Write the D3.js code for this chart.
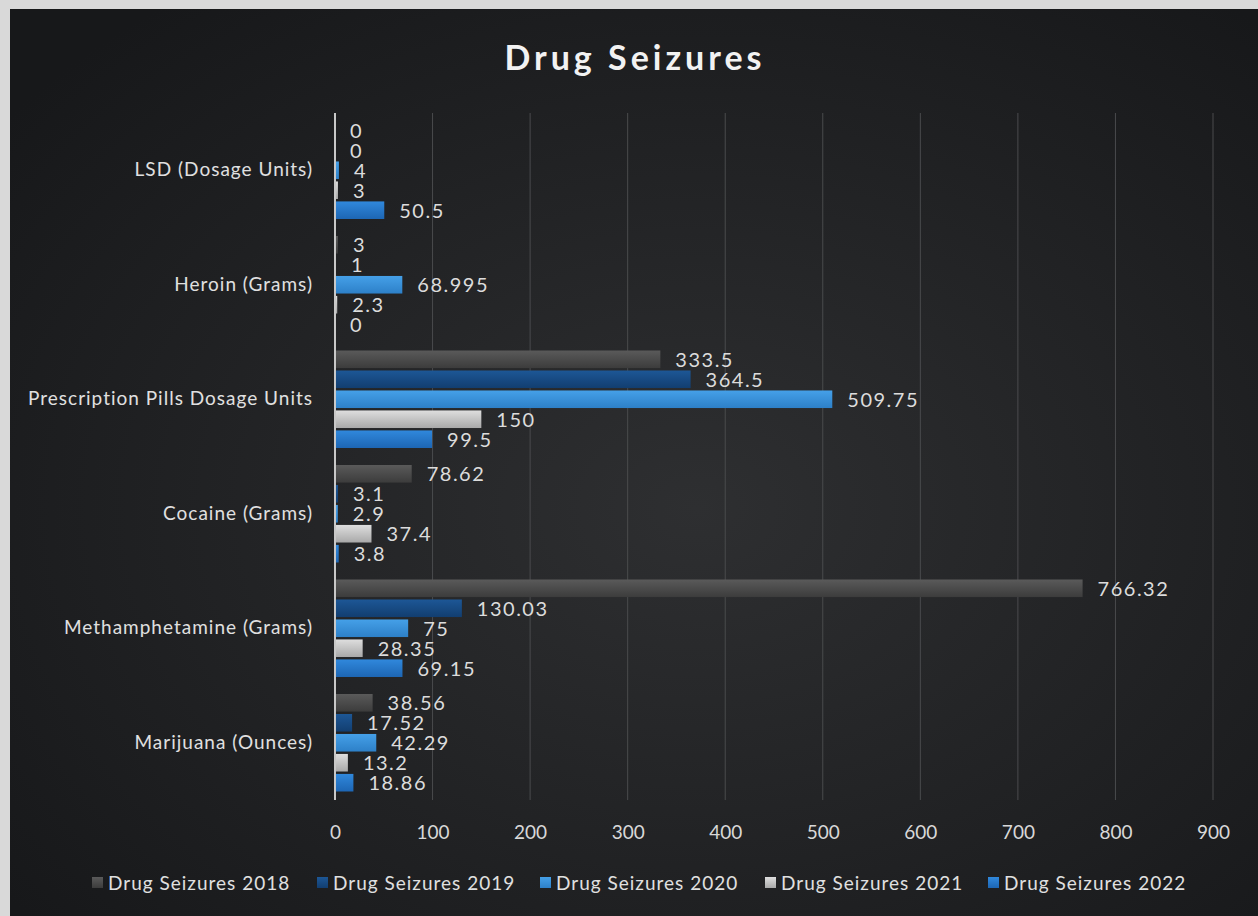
<!DOCTYPE html>
<html>
<head>
<meta charset="utf-8">
<script src="https://cdn.jsdelivr.net/npm/d3@7"></script>
<style>
  body { margin: 0; background: #d9d9d9; }
  #chart { width: 1258px; height: 916px; }
  text { font-family: Lato, "Open Sans", sans-serif; }
</style>
</head>
<body>
<div id="chart"></div>
<script>
// categories top to bottom
let categories = ["LSD (Dosage Units)", "Heroin (Grams)", "Prescription Pills Dosage Units",
    "Cocaine (Grams)", "Methamphetamine (Grams)", "Marijuana (Ounces)"];
let seriesNames = ["Drug Seizures 2018", "Drug Seizures 2019", "Drug Seizures 2020",
    "Drug Seizures 2021", "Drug Seizures 2022"];
let values2018 = [0, 3, 333.5, 78.62, 766.32, 38.56];
let values2019 = [0, 1, 364.5, 3.1, 130.03, 17.52];
let values2020 = [4, 68.995, 509.75, 2.9, 75, 42.29];
let values2021 = [3, 2.3, 150, 37.4, 28.35, 13.2];
let values2022 = [50.5, 0, 99.5, 3.8, 69.15, 18.86];
let xTicks = [0, 100, 200, 300, 400, 500, 600, 700, 800, 900];

let allValues = [values2018, values2019, values2020, values2021, values2022];
let colors = [
    ["#5a5a5a", "#3c3c3c"],
    ["#1d5796", "#123e70"],
    ["#45a0e8", "#2d80c8"],
    ["#dedede", "#a9a9a9"],
    ["#3088dc", "#1d66b4"]
];

let W = 1258, H = 916;
let margin = {top: 113, right: 43, bottom: 116, left: 335};
let width = W - margin.left - margin.right,
    height = H - margin.top - margin.bottom;

let svg = d3.select("#chart").append("svg")
    .attr("width", W)
    .attr("height", H);

let defs = svg.append("defs");
let bg = defs.append("radialGradient").attr("id", "bg")
    .attr("cx", "55%").attr("cy", "55%").attr("r", "70%");
bg.append("stop").attr("offset", "0%").attr("stop-color", "#2e2f31");
bg.append("stop").attr("offset", "100%").attr("stop-color", "#17181a");

colors.forEach(function(c, i){
    let g = defs.append("linearGradient").attr("id", "bar" + i)
        .attr("x1", 0).attr("y1", 0).attr("x2", 0).attr("y2", 1);
    g.append("stop").attr("offset", "0%").attr("stop-color", c[0]);
    g.append("stop").attr("offset", "100%").attr("stop-color", c[1]);
});

svg.append("rect")
    .attr("x", 10).attr("y", 9)
    .attr("width", W - 10).attr("height", H - 9)
    .attr("fill", "url(#bg)");

svg.append("text")
    .attr("x", 635).attr("y", 70)
    .attr("text-anchor", "middle")
    .style("font-size", "34px")
    .style("font-weight", "bold")
    .style("fill", "#f2f2f2")
    .style("letter-spacing", "4px")
    .text("Drug Seizures");

let g = svg.append("g")
    .attr("transform", "translate(" + margin.left + "," + margin.top + ")");

let x = d3.scaleLinear().domain([0, 900]).range([0, 878]);
let y0 = d3.scaleBand().domain(categories).range([0, height]).padding(0);
let y1 = d3.scaleBand().domain(d3.range(5))
    .range([8.5, y0.bandwidth() - 8.5]).paddingInner(0.12);

// gridlines
g.append("g")
    .selectAll("line")
    .data(xTicks.slice(1))
    .join("line")
    .attr("x1", d => x(d)).attr("x2", d => x(d))
    .attr("y1", 0).attr("y2", height)
    .style("stroke", "#4a4b4d")
    .style("stroke-width", 1);

// x axis labels
let xAxis = d3.axisBottom(x).tickValues(xTicks).tickSize(0).tickPadding(26);
let xg = g.append("g")
    .attr("transform", "translate(0," + height + ")")
    .call(xAxis);
xg.select(".domain").remove();
xg.selectAll("text")
    .style("font-size", "19px")
    .style("fill", "#d8d8d8")
    .style("font-family", "Lato, sans-serif");

// y axis
let yAxis = d3.axisLeft(y0).tickSize(0).tickPadding(22);
let yg = g.append("g").call(yAxis);
yg.select(".domain").remove();
yg.selectAll("text")
    .style("font-size", "19px")
    .style("letter-spacing", "1px")
    .style("fill", "#e0e0e0")
    .style("font-family", "Lato, sans-serif");

let groups = g.append("g")
    .selectAll("g")
    .data(categories)
    .join("g")
    .attr("transform", d => "translate(0," + y0(d) + ")");

groups.selectAll("rect")
    .data((d, ci) => allValues.map((vals, si) => ({s: si, v: vals[ci]})))
    .join("rect")
    .attr("x", 0)
    .attr("y", d => y1(d.s))
    .attr("width", d => x(d.v))
    .attr("height", y1.bandwidth())
    .attr("fill", d => "url(#bar" + d.s + ")");

groups.selectAll("text")
    .data((d, ci) => allValues.map((vals, si) => ({s: si, v: vals[ci]})))
    .join("text")
    .attr("x", d => x(d.v) + 15)
    .attr("y", d => y1(d.s) + y1.bandwidth() / 2)
    .attr("dy", "0.38em")
    .style("font-size", "20px")
    .style("letter-spacing", "1.5px")
    .style("fill", "#dcdcdc")
    .text(d => d.v);

// vertical axis line
g.append("line")
    .attr("x1", 0).attr("x2", 0)
    .attr("y1", 0).attr("y2", height)
    .style("stroke", "#c8c8c8")
    .style("stroke-width", 2);

// legend
let legendX = [92, 317, 540, 765, 988];
let legend = svg.append("g")
    .selectAll("g")
    .data(seriesNames)
    .join("g")
    .attr("transform", (d, i) => "translate(" + legendX[i] + ",883)");
legend.append("rect")
    .attr("x", 0).attr("y", -6)
    .attr("width", 11).attr("height", 11)
    .attr("fill", (d, i) => "url(#bar" + i + ")");
legend.append("text")
    .attr("x", 16)
    .attr("dy", "0.35em")
    .style("font-size", "19px")
    .style("letter-spacing", "1px")
    .style("fill", "#e0e0e0")
    .text(d => d);
</script>
</body>
</html>
